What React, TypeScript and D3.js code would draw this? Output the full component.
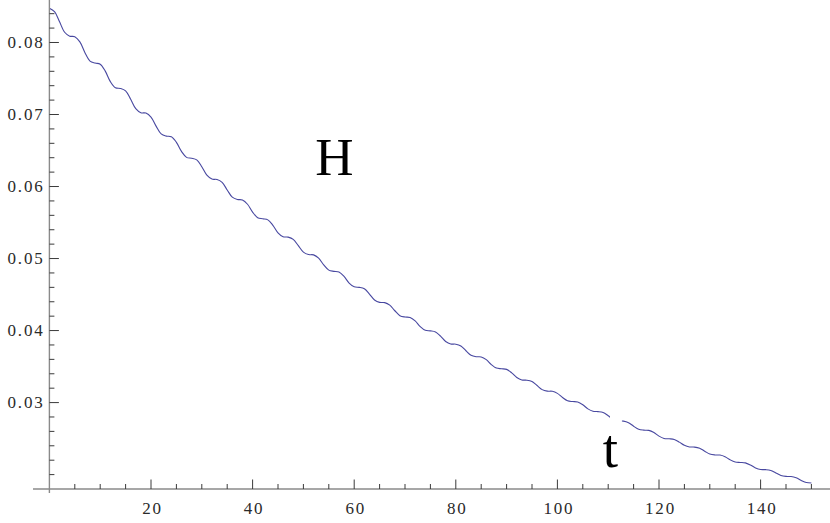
import React from "react";
import * as d3 from "d3";

// time step of samples (t = index * tStep)
const tStep = 1;
const hValues = [
  0.08475, 0.08428, 0.08287, 0.08142, 0.08088, 0.08081, 0.08008, 0.07859, 0.07742, 0.07715,
  0.07699, 0.07602, 0.07457, 0.07371, 0.07361, 0.07328, 0.07211, 0.07081, 0.07025, 0.0702,
  0.06965, 0.06839, 0.0673, 0.067, 0.06691, 0.06614, 0.06488, 0.06405, 0.06393, 0.0637,
  0.06275, 0.06158, 0.06103, 0.06098, 0.06058, 0.05952, 0.05852, 0.0582, 0.05813, 0.05754,
  0.05645, 0.05567, 0.05552, 0.05537, 0.05461, 0.05357, 0.05302, 0.05297, 0.05267, 0.05179,
  0.05089, 0.05055, 0.05051, 0.05005, 0.04912, 0.04839, 0.04822, 0.04812, 0.04751, 0.0466,
  0.04607, 0.046, 0.0458, 0.04507, 0.04425, 0.04391, 0.04388, 0.04353, 0.04275, 0.04207,
  0.04188, 0.04182, 0.04134, 0.04055, 0.04003, 0.03996, 0.03981, 0.03922, 0.03849, 0.03814,
  0.03811, 0.03786, 0.0372, 0.03657, 0.03637, 0.03634, 0.03596, 0.03528, 0.03479, 0.0347,
  0.03461, 0.03413, 0.03348, 0.03314, 0.03311, 0.03292, 0.03237, 0.0318, 0.03159, 0.03157,
  0.03128, 0.0307, 0.03024, 0.03014, 0.03008, 0.0297, 0.02913, 0.02879, 0.02875, 0.02862,
  0.02817, 0.02766, 0.02744, 0.02742, 0.02721, 0.02672, 0.02629, 0.02617, 0.02614, 0.02584,
  0.02534, 0.02502, 0.02497, 0.02488, 0.02451, 0.02406, 0.02384, 0.02382, 0.02366, 0.02325,
  0.02286, 0.02273, 0.02271, 0.02248, 0.02205, 0.02175, 0.02169, 0.02163, 0.02133, 0.02093,
  0.02071, 0.02069, 0.02058, 0.02023, 0.01988, 0.01975, 0.01973, 0.01955, 0.01919, 0.0189,
  0.01884,
];

const xTickValues = [20, 40, 60, 80, 100, 120, 140];
const xTickLabels = ["20", "40", "60", "80", "100", "120", "140"];
const yTickValues = [0.03, 0.04, 0.05, 0.06, 0.07, 0.08];
const yTickLabels = ["0.03", "0.04", "0.05", "0.06", "0.07", "0.08"];
const xMinorStep = 5;
const yMinorStep = 0.002;
const yLabel = "H";
const xLabel = "t";
// the small gap in the curve around the "t" label (t range)
const labelGap = [110.35, 112.7];

const W = 830;
const H = 523;

export default function App() {
  const x = d3.scaleLinear().domain([0, 150]).range([49.4, 811.4]);
  const y = d3.scaleLinear().domain([0.018, 0.0859]).range([489, 0]);

  const pts: [number, number][] = hValues.map((v, i) => [i * tStep, v]);
  const line = d3
    .line<[number, number]>()
    .x((d) => x(d[0]))
    .y((d) => y(d[1]))
    .curve(d3.curveCatmullRom.alpha(0.5));

  const xMinor = d3
    .range(xMinorStep, 150 + 0.001, xMinorStep)
    .filter((v) => !xTickValues.some((m) => Math.abs(m - v) < 1e-6));
  const yMinor = d3
    .range(0.02, 0.0845, yMinorStep)
    .filter((v) => !yTickValues.some((m) => Math.abs(m - v) < 1e-6));

  const x0 = x(0);
  const yAxisY = y(0.018);
  const font = "'Liberation Serif', 'Times New Roman', serif";
  const tickColor = "#3a3a3a";
  const axisColor = "#8a8a8a";

  return (
    <svg
      width={W}
      height={H}
      style={{ position: "absolute", left: 0, top: 0, background: "#fff" }}
    >
      <rect x={0} y={0} width={W} height={H} fill="#fff" />
      {/* curve */}
      <path d={line(pts) || ""} fill="none" stroke="#4848a0" strokeWidth={1.1} />
      {/* gap behind the t label */}
      <rect
        x={x(labelGap[0])}
        y={y(0.0292)}
        width={x(labelGap[1]) - x(labelGap[0])}
        height={y(0.0262) - y(0.0292)}
        fill="#fff"
      />

      {/* axes */}
      <line x1={33} x2={W} y1={yAxisY} y2={yAxisY} stroke={axisColor} strokeWidth={1.4} />
      <line x1={x0} x2={x0} y1={0} y2={yAxisY + 4} stroke={axisColor} strokeWidth={1.4} />

      {/* x ticks */}
      {xMinor.map((v) => (
        <line key={"xm" + v} x1={x(v)} x2={x(v)} y1={yAxisY} y2={yAxisY - 5} stroke={tickColor} strokeWidth={1} />
      ))}
      {xTickValues.map((v, i) => (
        <g key={"xt" + v}>
          <line x1={x(v)} x2={x(v)} y1={yAxisY} y2={yAxisY - 9.5} stroke={tickColor} strokeWidth={1} />
          <text
            x={x(v) + 1.5}
            y={513.5}
            textAnchor="middle"
            fontFamily={font}
            fontSize={17}
            letterSpacing={1.8}
            fill="#2a2a2a"
          >
            {xTickLabels[i]}
          </text>
        </g>
      ))}

      {/* y ticks */}
      {yMinor.map((v) => (
        <line key={"ym" + v} x1={x0} x2={x0 + 5} y1={y(v)} y2={y(v)} stroke={tickColor} strokeWidth={1} />
      ))}
      {yTickValues.map((v, i) => (
        <g key={"yt" + v}>
          <line x1={x0} x2={x0 + 9.5} y1={y(v)} y2={y(v)} stroke={tickColor} strokeWidth={1} />
          <text
            x={44.5}
            y={y(v) + 5.7}
            textAnchor="end"
            fontFamily={font}
            fontSize={17}
            letterSpacing={1.8}
            fill="#2a2a2a"
          >
            {yTickLabels[i]}
          </text>
        </g>
      ))}

      {/* axis labels */}
      <text x={334.5} y={175} textAnchor="middle" fontFamily={font} fontSize={53} fill="#000">
        {yLabel}
      </text>
      <text x={610.5} y={467} textAnchor="middle" fontFamily={font} fontSize={55} fill="#000">
        {xLabel}
      </text>
    </svg>
  );
}
